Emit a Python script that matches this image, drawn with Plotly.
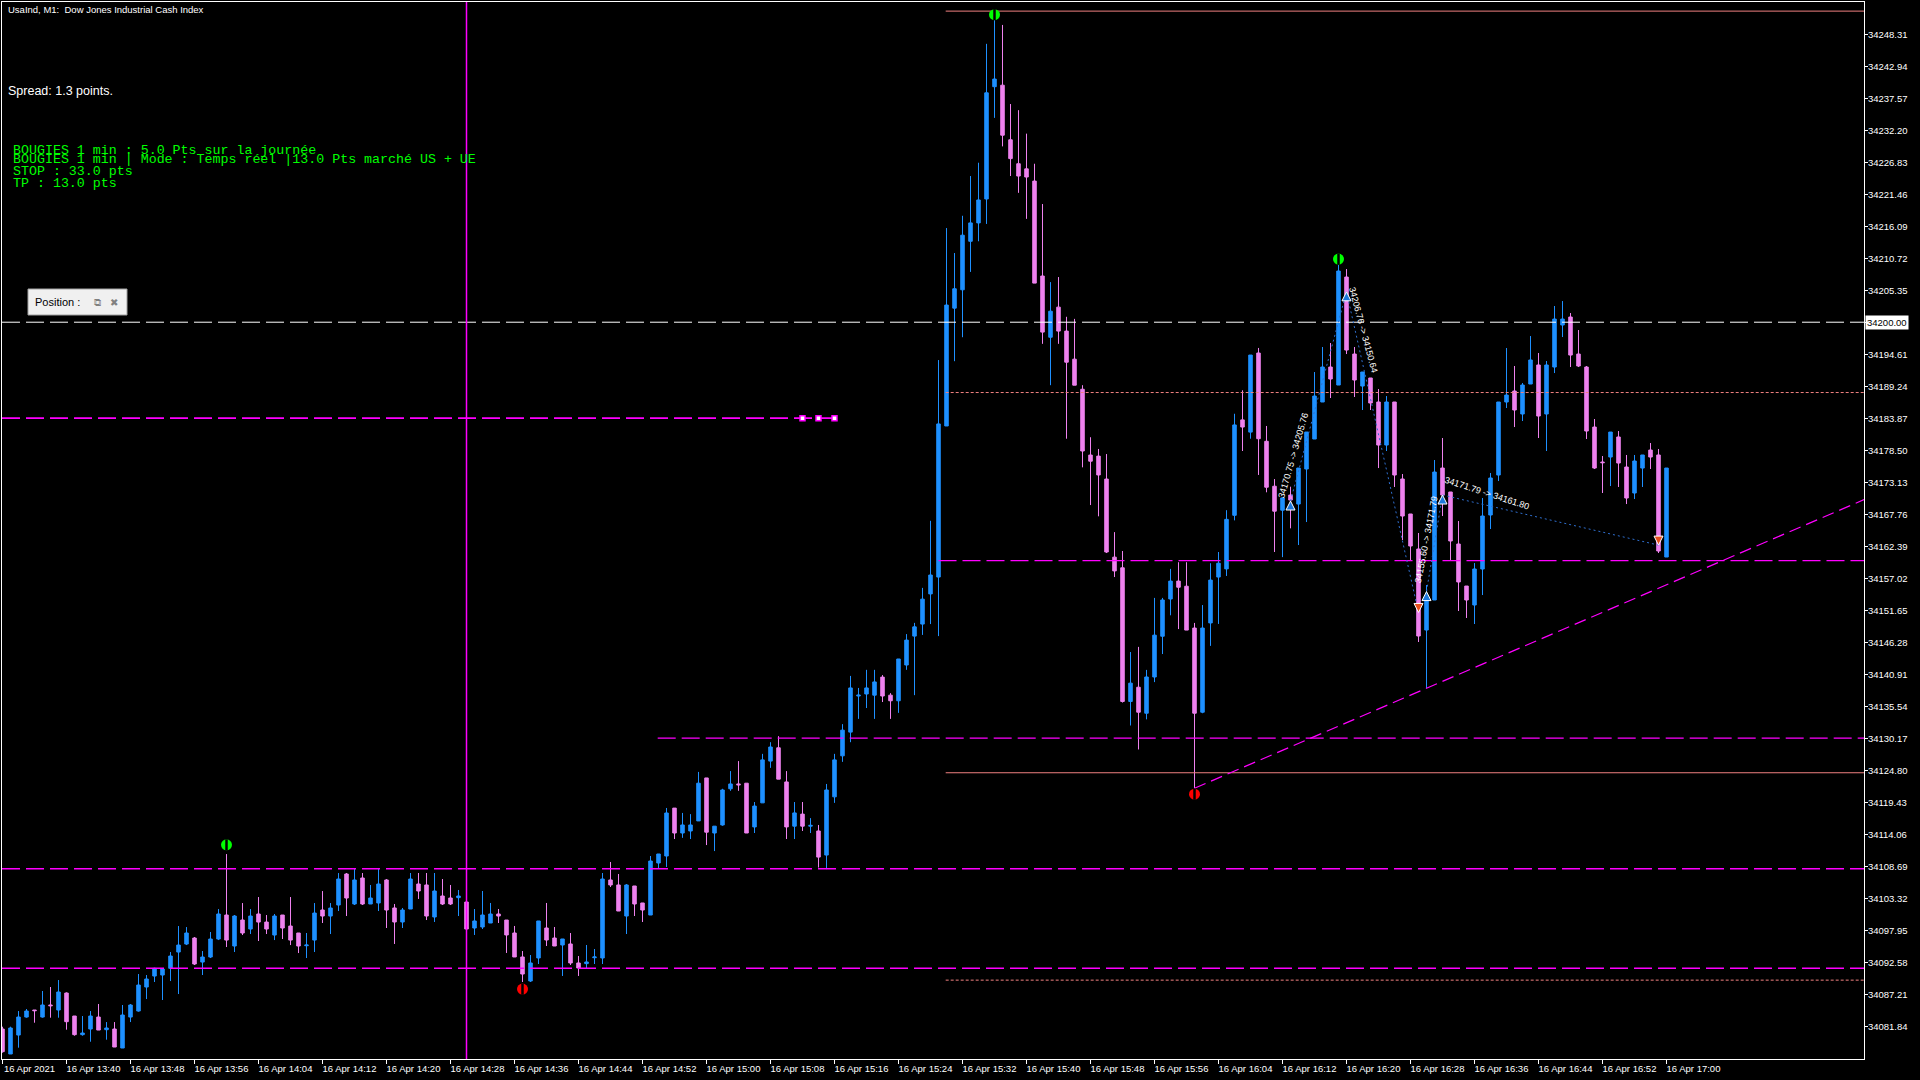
import plotly.graph_objects as go
import pandas as pd

# UsaInd M1, 16 Apr 2021, one bar per minute from 13:32 to 17:00
t0 = pd.Timestamp("2021-04-16 13:32")

open_ = [
    34081.40, 34077.21, 34080.39, 34083.41, 34084.59, 34083.41, 34085.43, 34084.59, 34087.44, 34083.58,
    34080.45, 34081.40, 34083.41, 34081.29, 34081.40, 34078.21, 34083.41, 34084.42, 34088.45, 34090.29,
    34090.46, 34091.58, 34094.32, 34095.66, 34096.67, 34092.64, 34093.48, 34096.50, 34100.53, 34095.33,
    34099.69, 34098.18, 34100.70, 34099.35, 34097.17, 34100.53, 34098.68, 34097.51, 34095.38, 34096.33,
    34101.37, 34100.36, 34102.21, 34107.41, 34102.38, 34106.74, 34102.38, 34102.55, 34106.41, 34101.71,
    34099.36, 34101.54, 34105.73, 34105.57, 34100.20, 34103.72, 34103.38, 34103.44, 34102.71, 34098.35,
    34098.52, 34099.19, 34100.70, 34099.69, 34097.51, 34093.49, 34089.46, 34093.32, 34098.35, 34096.67,
    34095.50, 34095.67, 34092.48, 34092.37, 34093.37, 34093.32, 34106.41, 34105.57, 34100.36, 34105.40,
    34102.55, 34100.53, 34109.26, 34110.43, 34118.47, 34114.29, 34114.63, 34116.32, 34123.53, 34114.29,
    34115.64, 34121.71, 34122.52, 34122.65, 34115.31, 34119.35, 34126.36, 34128.59, 34122.86, 34115.44,
    34117.46, 34115.44, 34114.63, 34110.59, 34120.36, 34127.24, 34131.22, 34137.28, 34137.62, 34137.42,
    34140.45, 34137.42, 34136.48, 34142.48, 34147.33, 34149.35, 34154.41, 34157.24, 34182.59, 34202.36,
    34205.44, 34213.58, 34216.66, 34220.68, 34239.52, 34239.77, 34230.61, 34226.59, 34225.73, 34223.68,
    34207.75, 34197.48, 34202.53, 34198.51, 34193.80, 34188.75, 34177.71, 34177.53, 34173.68, 34160.58,
    34158.79, 34136.36, 34138.75, 34134.39, 34140.47, 34147.31, 34153.56, 34156.56, 34155.70, 34148.68,
    34134.56, 34149.54, 34157.24, 34158.61, 34167.60, 34183.61, 34181.56, 34194.83, 34180.02, 34172.48,
    34168.46, 34171.00, 34169.49, 34175.37, 34180.40, 34186.61, 34192.48, 34189.46, 34207.58, 34194.66,
    34189.29, 34190.64, 34186.61, 34179.39, 34186.61, 34173.69, 34167.82, 34161.94, 34148.35, 34153.39,
    34175.53, 34171.51, 34162.78, 34155.73, 34152.55, 34158.59, 34167.65, 34174.36, 34186.61, 34188.45,
    34184.60, 34189.63, 34192.82, 34184.60, 34192.48, 34199.53, 34200.87, 34194.66, 34192.48, 34182.41,
    34176.54, 34177.38, 34180.74, 34175.70, 34171.34, 34175.53, 34178.55, 34177.72, 34160.60,
]
high = [
    34081.79, 34081.79, 34084.42, 34084.76, 34084.59, 34087.78, 34088.45, 34089.62, 34087.55, 34083.58,
    34083.58, 34084.42, 34085.60, 34082.57, 34082.57, 34085.43, 34085.60, 34090.63, 34090.46, 34091.69,
    34091.58, 34094.32, 34098.68, 34098.51, 34096.84, 34094.49, 34097.68, 34101.53, 34110.76, 34100.53,
    34102.54, 34101.53, 34103.55, 34100.53, 34100.70, 34100.53, 34103.55, 34097.51, 34097.51, 34102.54,
    34104.55, 34102.54, 34107.57, 34107.58, 34108.42, 34107.58, 34105.57, 34108.42, 34106.57, 34102.38,
    34101.71, 34107.58, 34107.58, 34107.58, 34107.58, 34106.57, 34105.57, 34104.73, 34102.71, 34101.54,
    34104.56, 34102.55, 34101.54, 34099.69, 34098.69, 34094.49, 34093.82, 34099.53, 34102.55, 34098.52,
    34096.51, 34097.51, 34093.65, 34095.50, 34094.83, 34107.58, 34109.43, 34107.41, 34105.73, 34105.40,
    34102.55, 34110.43, 34110.77, 34118.49, 34118.47, 34117.66, 34117.46, 34124.54, 34123.53, 34115.44,
    34121.71, 34124.68, 34126.36, 34122.65, 34119.49, 34127.57, 34129.53, 34130.54, 34124.68, 34119.49,
    34119.49, 34116.79, 34115.64, 34122.52, 34127.57, 34132.56, 34140.65, 34138.63, 34141.67, 34141.67,
    34140.79, 34137.76, 34143.49, 34147.67, 34149.55, 34155.42, 34166.68, 34193.65, 34215.80, 34211.61,
    34217.86, 34224.53, 34226.76, 34246.71, 34251.76, 34249.88, 34236.61, 34235.58, 34231.64, 34226.59,
    34219.83, 34206.73, 34207.58, 34200.91, 34200.56, 34189.43, 34180.70, 34178.73, 34177.88, 34164.78,
    34161.61, 34144.66, 34145.52, 34141.66, 34153.74, 34153.74, 34158.61, 34159.73, 34159.73, 34149.54,
    34152.54, 34159.56, 34161.44, 34168.46, 34184.64, 34188.58, 34194.49, 34195.68, 34182.59, 34173.68,
    34170.52, 34172.40, 34175.53, 34181.57, 34191.64, 34195.84, 34196.51, 34209.60, 34208.92, 34195.84,
    34191.64, 34190.64, 34188.79, 34187.61, 34186.61, 34174.53, 34167.82, 34164.63, 34155.90, 34176.88,
    34180.57, 34171.51, 34166.64, 34155.73, 34159.59, 34170.50, 34174.70, 34186.61, 34195.67, 34192.65,
    34189.80, 34197.68, 34194.83, 34193.49, 34202.72, 34203.55, 34201.54, 34198.69, 34192.65, 34183.76,
    34177.55, 34181.57, 34181.74, 34177.72, 34177.72, 34177.72, 34179.73, 34178.72, 34175.53,
]
low = [
    34077.43, 34077.21, 34078.27, 34083.30, 34082.46, 34083.30, 34083.30, 34083.30, 34081.29, 34080.28,
    34080.28, 34079.27, 34081.23, 34079.61, 34078.38, 34078.21, 34082.57, 34084.31, 34086.43, 34089.29,
    34086.27, 34089.45, 34087.27, 34095.49, 34092.14, 34090.46, 34093.31, 34096.33, 34095.16, 34094.32,
    34097.17, 34097.34, 34096.17, 34097.34, 34096.33, 34096.50, 34095.49, 34094.15, 34093.31, 34094.32,
    34099.19, 34097.34, 34101.20, 34100.36, 34102.21, 34102.21, 34102.38, 34101.20, 34098.35, 34095.67,
    34098.35, 34101.54, 34103.22, 34099.69, 34099.36, 34102.21, 34102.21, 34100.36, 34098.18, 34097.18,
    34098.18, 34099.19, 34099.19, 34094.16, 34093.49, 34089.29, 34089.29, 34092.31, 34095.33, 34095.33,
    34090.30, 34092.14, 34090.30, 34091.64, 34092.31, 34092.31, 34105.23, 34101.20, 34097.34, 34100.36,
    34099.36, 34100.53, 34108.42, 34108.59, 34113.28, 34113.48, 34113.28, 34116.32, 34112.27, 34111.26,
    34115.51, 34121.37, 34121.37, 34114.29, 34114.29, 34119.35, 34125.22, 34123.33, 34113.28, 34113.28,
    34114.63, 34114.29, 34108.50, 34108.23, 34119.35, 34126.23, 34129.53, 34133.44, 34135.26, 34133.44,
    34136.27, 34133.44, 34134.45, 34141.67, 34137.42, 34147.53, 34149.35, 34147.33, 34182.59, 34193.46,
    34197.48, 34208.44, 34213.58, 34216.49, 34234.29, 34229.50, 34224.53, 34221.71, 34217.34, 34206.56,
    34196.37, 34189.43, 34196.37, 34180.45, 34189.43, 34175.65, 34169.32, 34167.43, 34161.27, 34157.24,
    34136.18, 34132.33, 34128.31, 34133.36, 34139.61, 34144.32, 34150.82, 34148.51, 34148.34, 34121.80,
    34134.39, 34145.69, 34149.37, 34157.42, 34166.75, 34178.39, 34180.45, 34174.37, 34171.46, 34161.44,
    34160.58, 34165.41, 34162.61, 34166.47, 34180.40, 34186.61, 34187.28, 34189.46, 34194.66, 34187.45,
    34185.27, 34185.27, 34175.53, 34178.39, 34172.35, 34163.45, 34159.93, 34146.34, 34138.62, 34153.39,
    34167.48, 34160.10, 34151.54, 34150.37, 34149.36, 34154.22, 34165.30, 34173.35, 34185.60, 34182.41,
    34183.42, 34189.63, 34180.57, 34178.39, 34191.47, 34197.51, 34192.48, 34192.48, 34180.40, 34175.37,
    34171.34, 34172.51, 34172.35, 34169.49, 34170.33, 34172.35, 34175.37, 34161.27, 34160.60,
]
close = [
    34077.60, 34081.57, 34083.41, 34084.42, 34084.48, 34085.43, 34085.31, 34087.61, 34082.63, 34080.45,
    34080.73, 34083.58, 34081.23, 34081.57, 34078.38, 34083.75, 34085.43, 34088.78, 34089.79, 34091.58,
    34091.47, 34093.65, 34095.49, 34097.51, 34092.31, 34093.48, 34096.50, 34100.70, 34096.33, 34100.36,
    34097.51, 34100.36, 34099.35, 34098.18, 34100.36, 34098.35, 34096.33, 34095.33, 34095.49, 34100.86,
    34100.36, 34101.70, 34106.57, 34103.38, 34106.41, 34102.38, 34103.38, 34105.73, 34101.37, 34099.36,
    34101.37, 34106.57, 34104.56, 34100.36, 34104.56, 34102.38, 34102.38, 34103.72, 34098.18, 34099.53,
    34100.53, 34100.70, 34100.36, 34097.18, 34093.49, 34090.63, 34092.48, 34099.53, 34096.34, 34095.33,
    34096.51, 34092.48, 34091.64, 34092.65, 34093.49, 34106.57, 34105.57, 34101.20, 34105.57, 34102.38,
    34101.37, 34109.59, 34110.77, 34117.65, 34114.29, 34115.64, 34115.64, 34122.65, 34114.43, 34115.44,
    34121.51, 34122.52, 34122.38, 34114.29, 34118.81, 34126.56, 34128.72, 34123.33, 34115.31, 34117.66,
    34115.44, 34115.57, 34110.25, 34121.51, 34126.56, 34131.55, 34138.63, 34137.42, 34138.63, 34139.64,
    34137.28, 34136.48, 34143.49, 34146.66, 34148.88, 34153.53, 34157.58, 34182.93, 34202.88, 34205.61,
    34214.60, 34216.66, 34220.51, 34238.49, 34240.80, 34231.38, 34227.45, 34224.53, 34224.36, 34206.56,
    34198.34, 34201.85, 34198.51, 34193.29, 34189.43, 34178.39, 34176.68, 34174.37, 34161.44, 34158.27,
    34136.36, 34139.44, 34134.56, 34140.47, 34147.49, 34153.39, 34156.56, 34155.53, 34148.34, 34134.39,
    34148.68, 34156.73, 34159.56, 34166.92, 34182.76, 34182.41, 34194.49, 34180.45, 34172.31, 34168.29,
    34170.52, 34170.16, 34175.53, 34181.57, 34187.61, 34192.48, 34190.47, 34208.59, 34195.33, 34190.30,
    34191.64, 34186.44, 34179.39, 34186.61, 34174.36, 34167.48, 34162.45, 34147.35, 34153.55, 34174.86,
    34171.00, 34163.29, 34156.41, 34153.39, 34158.59, 34167.48, 34173.86, 34186.61, 34187.78, 34185.27,
    34189.46, 34193.66, 34184.26, 34192.82, 34200.53, 34200.53, 34194.49, 34192.65, 34181.74, 34175.53,
    34176.43, 34181.57, 34176.37, 34170.50, 34176.71, 34177.72, 34177.38, 34161.61, 34175.53,
]

x_tick_times = ["13:32", "13:40", "13:48", "13:56", "14:04", "14:12", "14:20", "14:28", "14:36",
                "14:44", "14:52", "15:00", "15:08", "15:16", "15:24", "15:32", "15:40", "15:48",
                "15:56", "16:04", "16:12", "16:20", "16:28", "16:36", "16:44", "16:52", "17:00"]
x_tick_labels = ["16 Apr 2021"] + ["16 Apr " + t for t in x_tick_times[1:]]

y_ticks = [34081.84, 34087.21, 34092.58, 34097.95, 34103.32, 34108.69, 34114.06, 34119.43,
           34124.80, 34130.17, 34135.54, 34140.91, 34146.28, 34151.65, 34157.02, 34162.39,
           34167.76, 34173.13, 34178.50, 34183.87, 34189.24, 34194.61, 34199.98, 34205.35,
           34210.72, 34216.09, 34221.46, 34226.83, 34232.20, 34237.57, 34242.94, 34248.31]

# horizontal objects on the chart (price levels)
day_high_line = 34252.2
day_low_line = 34124.4
salmon_dotted = [34188.2, 34089.6]
price_line = 34200.00
magenta_short = 34183.9
magenta_anchor_minutes = [100, 102, 104]
magenta_right = [34160.0, 34130.2]
magenta_right_start = [117.0, 81.9]
magenta_full = [34108.3, 34091.6]
vline_minute = 58
trend_start = (149, 34121.8)
trend_slope = 0.5786  # points per minute

fractal_up_minutes = [28, 124, 167]
fractal_up_prices = [34112.3, 34251.6, 34210.6]
fractal_dn_minutes = [65, 149]
fractal_dn_prices = [34088.1, 34120.8]

buy_minutes = [161, 168, 178, 180]
buy_prices = [34170.0, 34205.1, 34154.8, 34171.0]
exit_minutes = [177, 207]
exit_prices = [34151.3, 34162.6]
trade_paths = [((161, 34170.0), (168, 34205.1)), ((168, 34205.1), (177, 34151.3)),
               ((178, 34154.8), (180, 34171.0)), ((180, 34171.0), (207, 34162.6))]
trade_texts = ["34170.75 -> 34205.76", "34206.76 -> 34150.64",
               "34155.60 -> 34171.79", "34171.79 -> 34161.80"]
trade_text_pos = [(161.3, 34177.6, -74), (170.1, 34198.7, 75),
                  (178.0, 34163.4, -79), (185.5, 34171.4, 18)]


def tm(m):
    return t0 + pd.Timedelta(minutes=m)


times = [tm(m) for m in range(len(open_))]

W, H = 1920, 1080
ML, MR, MT, MB = 2, 56, 2, 21
x_left = tm(-0.0625)
x_right = tm(-0.0625 + (W - ML - MR) / 8)
y_lo, y_hi = 34076.37, 34253.73


def fx(px):
    return (px - ML) / (W - ML - MR)


def fy(py):
    return (H - MB - py) / (H - MT - MB)


BULL = "#1e90ff"
BEAR = "#ee82ee"
MAG = "#ff00ff"
SALMON = "#f08080"

fig = go.Figure()
fig.add_trace(go.Candlestick(
    x=times, open=open_, high=high, low=low, close=close,
    increasing=dict(line=dict(color=BULL, width=1), fillcolor=BULL),
    decreasing=dict(line=dict(color=BEAR, width=1), fillcolor=BEAR),
    whiskerwidth=0, hoverinfo="skip"))


def hline(y, xa, xb, color, dash, width=1):
    fig.add_trace(go.Scatter(x=[xa, xb], y=[y, y], mode="lines", hoverinfo="skip",
                             line=dict(color=color, dash=dash, width=width)))


hline(day_high_line, tm(117.9), x_right, SALMON, "solid")
hline(day_low_line, tm(117.9), x_right, SALMON, "solid")
for p in salmon_dotted:
    hline(p, tm(117.9), x_right, SALMON, "3px,2px")
hline(price_line, x_left, x_right, "white", "18px,6px")
hline(magenta_short, x_left, tm(magenta_anchor_minutes[-1]), MAG, "18px,6px", 1.6)
fig.add_trace(go.Scatter(x=[tm(m) for m in magenta_anchor_minutes], y=[magenta_short] * 3,
                         mode="markers", hoverinfo="skip",
                         marker=dict(symbol="square", size=5, color="white",
                                     line=dict(color=MAG, width=1.5))))
for p, s in zip(magenta_right, magenta_right_start):
    hline(p, tm(s), x_right, MAG, "18px,6px", 1.2)
for p in magenta_full:
    hline(p, x_left, x_right, MAG, "18px,6px", 1.5)

# trend line from the 15:53 low
tr_end = 232.7
fig.add_trace(go.Scatter(
    x=[tm(trend_start[0]), tm(tr_end)],
    y=[trend_start[1], trend_start[1] + trend_slope * (tr_end - trend_start[0])],
    mode="lines", hoverinfo="skip", line=dict(color=MAG, dash="12px,6px", width=1.2)))

# trade history
for (a, b) in trade_paths:
    fig.add_trace(go.Scatter(x=[tm(a[0]), tm(b[0])], y=[a[1], b[1]], mode="lines",
                             hoverinfo="skip", line=dict(color="#2f6fcf", dash="2px,3px", width=1)))
fig.add_trace(go.Scatter(x=[tm(m) for m in buy_minutes], y=buy_prices, mode="markers",
                         hoverinfo="skip",
                         marker=dict(symbol="arrow-up", size=9, color="#1e78dc",
                                     line=dict(color="white", width=1))))
fig.add_trace(go.Scatter(x=[tm(m) for m in exit_minutes], y=exit_prices, mode="markers",
                         hoverinfo="skip",
                         marker=dict(symbol="arrow-down", size=9, color="#e8501e",
                                     line=dict(color="white", width=1))))

# fractal marks
for mins, prices, col in [(fractal_up_minutes, fractal_up_prices, "#00ff00"),
                          (fractal_dn_minutes, fractal_dn_prices, "#ff0000")]:
    xs = [tm(m) for m in mins]
    fig.add_trace(go.Scatter(x=xs, y=prices, mode="markers", hoverinfo="skip",
                             marker=dict(symbol="circle", size=11, color=col)))
    fig.add_trace(go.Scatter(x=xs, y=prices, mode="markers", hoverinfo="skip",
                             marker=dict(symbol="line-ns", size=8,
                                         line=dict(color="black", width=2.5))))

shapes = [
    dict(type="line", xref="x", yref="paper", x0=tm(vline_minute), x1=tm(vline_minute),
         y0=0, y1=1, line=dict(color=MAG, width=1.5), layer="above"),
    dict(type="rect", xref="paper", yref="paper", x0=fx(28), x1=fx(127), y0=fy(315), y1=fy(289),
         fillcolor="#f0f0f0", line=dict(color="#a0a0a0", width=1), layer="above"),
]

ann = []
for txt, (m, p, ang) in zip(trade_texts, trade_text_pos):
    ann.append(dict(x=tm(m), y=p, xref="x", yref="y", text=txt, showarrow=False,
                    textangle=ang, font=dict(color="white", size=9, family="Liberation Sans")))

ann += [
    dict(x=fx(6), y=fy(9), xref="paper", yref="paper", xanchor="left", yanchor="middle",
         text="UsaInd, M1:\u00a0\u00a0Dow Jones Industrial Cash Index", showarrow=False,
         font=dict(color="white", size=9.5, family="Liberation Sans")),
    dict(x=fx(6), y=fy(91), xref="paper", yref="paper", xanchor="left", yanchor="middle",
         text="Spread: 1.3 points.", showarrow=False,
         font=dict(color="white", size=12.5, family="Liberation Sans")),
    dict(x=fx(33), y=fy(302), xref="paper", yref="paper", xanchor="left", yanchor="middle",
         text="Position :", showarrow=False,
         font=dict(color="black", size=11, family="Liberation Sans")),
    dict(x=fx(97), y=fy(302), xref="paper", yref="paper", xanchor="center", yanchor="middle",
         text="\u29c9", showarrow=False, font=dict(color="#808080", size=10, family="DejaVu Sans")),
    dict(x=fx(114), y=fy(302), xref="paper", yref="paper", xanchor="center", yanchor="middle",
         text="\u2716", showarrow=False, font=dict(color="#808080", size=10, family="DejaVu Sans")),
    dict(x=1, y=price_line, xref="paper", yref="y", xanchor="left", yanchor="middle", xshift=1,
         text="34200.00", showarrow=False, bgcolor="white", borderpad=1,
         font=dict(color="black", size=9.5, family="Liberation Sans")),
]

green_lines = ["BOUGIES 1 min : 5.0 Pts sur la journée",
               "BOUGIES 1 min | Mode : Temps réel |13.0 Pts marché US + UE",
               "STOP : 33.0 pts",
               "TP : 13.0 pts"]
for txt, py in zip(green_lines, [150, 160, 172, 183]):
    ann.append(dict(x=fx(11), y=fy(py), xref="paper", yref="paper", xanchor="left",
                    yanchor="middle", text=txt.replace(" ", "\u00a0"), showarrow=False,
                    font=dict(color="#00ff00", size=13.3, family="Liberation Mono")))

# the 34199.98 tick sits under the 34200.00 price label
y_tick_text = ["" if abs(v - price_line) < 0.1 else "%.2f" % v for v in y_ticks]

fig.update_layout(
    width=W, height=H, margin=dict(l=ML, r=MR, t=MT, b=MB, pad=0),
    paper_bgcolor="black", plot_bgcolor="black", showlegend=False, boxgap=0.37,
    font=dict(family="Liberation Sans", color="white", size=9.5),
    shapes=shapes, annotations=ann,
    xaxis=dict(type="date", range=[x_left, x_right], rangeslider=dict(visible=False),
               showgrid=False, zeroline=False, showline=True, mirror=True,
               linecolor="white", linewidth=1, ticks="outside", ticklen=4, tickcolor="white",
               tickvals=[pd.Timestamp("2021-04-16 " + t) for t in x_tick_times],
               ticktext=x_tick_labels, tickfont=dict(size=9.5, color="white"),
               ticklabelshift=27, ticklabelstandoff=-3, fixedrange=True),
    yaxis=dict(side="right", range=[y_lo, y_hi], showgrid=False, zeroline=False,
               showline=True, mirror=True, linecolor="white", linewidth=1,
               ticks="outside", ticklen=3, tickcolor="white",
               tickvals=y_ticks, ticktext=y_tick_text, ticklabelstandoff=-2,
               tickfont=dict(size=9.5, color="white"), fixedrange=True),
)

fig.write_html("out.html", config={"displayModeBar": False},
               post_script="document.body.style.margin='0';document.body.style.overflow='hidden';")
